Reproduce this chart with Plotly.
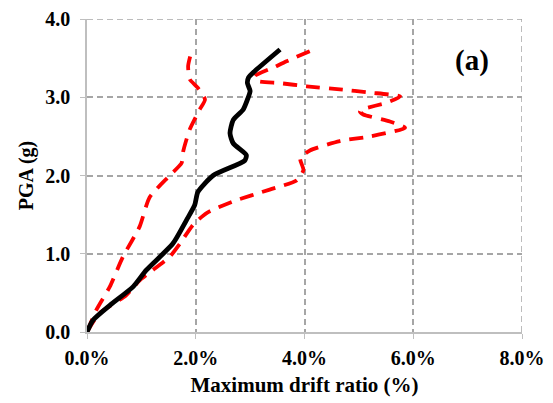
import plotly.graph_objects as go

# Maximum drift ratio (%) vs PGA (g)
mean_drift = [0, 0.11, 0.42, 0.85, 1.09, 1.58, 1.83, 1.98, 2.04, 2.32, 2.90, 2.93,
              2.69, 2.63, 2.69, 2.87, 2.95, 3.00, 2.95, 2.97, 3.08, 3.55]
mean_pga = [0, 0.15, 0.34, 0.58, 0.79, 1.13, 1.43, 1.62, 1.79, 2.00, 2.19, 2.26,
            2.41, 2.54, 2.71, 2.84, 2.97, 3.08, 3.18, 3.25, 3.33, 3.61]

lower_drift = [0, 0.17, 0.42, 0.66, 0.97, 1.15, 1.52, 1.74, 1.77, 1.89, 2.07, 2.17,
               2.04, 1.89, 1.86, 1.92]
lower_pga = [0, 0.28, 0.58, 0.96, 1.35, 1.72, 2.00, 2.16, 2.31, 2.59, 2.84, 2.97,
             3.12, 3.23, 3.40, 3.58]

upper_drift = [0, 0.23, 0.72, 0.97, 1.52, 1.71, 1.95, 2.20, 2.69, 3.36, 3.86, 3.98,
               3.92, 4.10, 4.65, 5.21, 5.85, 5.57, 5.08, 5.02, 5.08, 5.51, 5.76,
               5.20, 4.65, 4.04, 3.55, 3.12, 3.09, 3.43, 3.67, 4.10]
upper_pga = [0, 0.24, 0.47, 0.66, 0.96, 1.13, 1.37, 1.52, 1.67, 1.82, 1.94, 2.07,
             2.22, 2.32, 2.44, 2.50, 2.61, 2.69, 2.78, 2.82, 2.85, 2.93, 3.01,
             3.06, 3.10, 3.14, 3.18, 3.21, 3.27, 3.38, 3.46, 3.59]

x_ticks = [0, 2, 4, 6, 8]
x_ticktext = ["0.0%", "2.0%", "4.0%", "6.0%", "8.0%"]
y_ticks = [0, 1, 2, 3, 4]
y_ticktext = ["0.0", "1.0", "2.0", "3.0", "4.0"]

font_family = "Liberation Serif"
grid_color = "#a6a6a6"
axis_color = "#bfbfbf"

fig = go.Figure()
for xs, ys in [(lower_drift, lower_pga), (upper_drift, upper_pga)]:
    fig.add_trace(go.Scatter(
        x=xs, y=ys, mode="lines",
        line=dict(color="#ff0000", width=3.8, dash="14px,9px", shape="spline", smoothing=0.6),
        showlegend=False, hoverinfo="skip"))
fig.add_trace(go.Scatter(
    x=mean_drift, y=mean_pga, mode="lines",
    line=dict(color="#000000", width=4.8, shape="spline", smoothing=0.6),
    showlegend=False, hoverinfo="skip"))

fig.update_layout(
    width=553, height=403,
    margin=dict(l=87, r=31, t=19, b=71),
    paper_bgcolor="white", plot_bgcolor="white",
    font=dict(family=font_family, size=20, color="black"),
    annotations=[dict(text="<b>(a)</b>", x=7.08, y=3.47, xref="x", yref="y",
                      showarrow=False, font=dict(family=font_family, size=29, color="black"))],
)
fig.update_xaxes(
    range=[0, 8], tickmode="array", tickvals=x_ticks, ticktext=x_ticktext,
    automargin=False, ticklabelstandoff=2,
    showgrid=True, gridcolor=grid_color, griddash="6px,4px", gridwidth=1.5,
    showline=True, linecolor=axis_color, linewidth=1.5,
    ticks="outside", ticklen=5, tickcolor=axis_color,
    tickfont=dict(family=font_family, size=20, color="black", weight="bold"),
    title=dict(text="<b>Maximum drift ratio (%)</b>", standoff=10,
               font=dict(family=font_family, size=21, color="black")),
    zeroline=False,
)
fig.update_yaxes(
    range=[0, 4], tickmode="array", tickvals=y_ticks, ticktext=y_ticktext,
    automargin=False, ticklabelstandoff=6,
    showgrid=True, gridcolor=grid_color, griddash="6px,4px", gridwidth=1.5,
    showline=True, linecolor=axis_color, linewidth=1.5,
    ticks="outside", ticklen=5, tickcolor=axis_color,
    tickfont=dict(family=font_family, size=20, color="black", weight="bold"),
    title=dict(text="<b>PGA (g)</b>", standoff=6,
               font=dict(family=font_family, size=20, color="black")),
    zeroline=False,
)
# dashed frame on the top and right edges
fig.add_shape(type="line", xref="x", yref="y", x0=0, x1=8, y0=4, y1=4,
              line=dict(color=grid_color, width=1.5, dash="6px,4px"), layer="below")
fig.add_shape(type="line", xref="x", yref="y", x0=8, x1=8, y0=0, y1=4,
              line=dict(color=grid_color, width=1.5, dash="6px,4px"), layer="below")

fig.write_html("out.html")
